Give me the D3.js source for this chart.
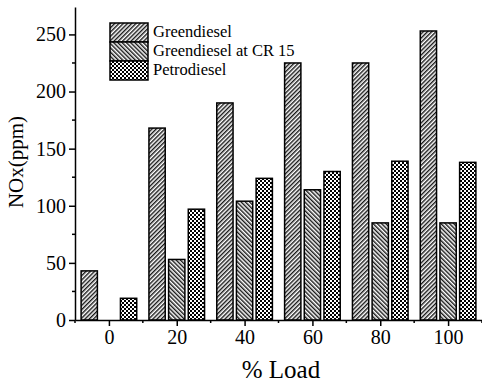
<!DOCTYPE html>
<html>
<head>
<meta charset="utf-8">
<script src="https://cdn.jsdelivr.net/npm/d3@7"></script>
<style>
  body { margin: 0; background: #fff; }
</style>
</head>
<body>
<div id="chart"></div>
<script>
// data
const loads = [0, 20, 40, 60, 80, 100];
const greendiesel = [43, 168, 190, 225, 225, 253];
const greendieselCR15 = [0, 53, 104, 114, 85, 85];
const petrodiesel = [19, 97, 124, 130, 139, 138];
const seriesNames = ["Greendiesel", "Greendiesel at CR 15", "Petrodiesel"];
const xTicks = [0, 20, 40, 60, 80, 100];
const yTicks = [0, 50, 100, 150, 200, 250];

const width = 482, height = 385;
const serif = "'Liberation Serif', 'Times New Roman', Times, 'DejaVu Serif', serif";

const svg = d3.select("#chart")
    .append("svg")
        .attr("width", width)
        .attr("height", height)
        .style("font-family", serif);

// patterns
const defs = svg.append("defs");

function hatch(id, angle) {
    const p = defs.append("pattern")
        .attr("id", id)
        .attr("patternUnits", "userSpaceOnUse")
        .attr("width", 3)
        .attr("height", 3)
        .attr("patternTransform", `rotate(${angle})`);
    p.append("rect").attr("width", 3).attr("height", 3).attr("fill", "#fff");
    p.append("line")
        .attr("x1", 0.75).attr("y1", 0).attr("x2", 0.75).attr("y2", 3)
        .attr("stroke", "#000").attr("stroke-width", 1.3);
}
hatch("pGreen", 45);
hatch("pCR", -45);

const chk = defs.append("pattern")
    .attr("id", "pPetro")
    .attr("patternUnits", "userSpaceOnUse")
    .attr("width", 4)
    .attr("height", 4);
chk.append("rect").attr("width", 4).attr("height", 4).attr("fill", "#fff");
chk.append("rect").attr("width", 2).attr("height", 2).attr("fill", "#000");
chk.append("rect").attr("x", 2).attr("y", 2).attr("width", 2).attr("height", 2).attr("fill", "#000");

const fills = ["url(#pGreen)", "url(#pCR)", "url(#pPetro)"];
const offsets = [-5.8, 0, 5.8];
const barW = 4.8;

// scales
const x = d3.scaleLinear().domain([-10, 110]).range([75, 482]);
const y = d3.scaleLinear().domain([0, 274]).range([320, 7]);

// bars
const allSeries = [greendiesel, greendieselCR15, petrodiesel];
allSeries.forEach(function(vals, s) {
    svg.append("g").selectAll("rect")
        .data(vals.map(function(v, i) { return {load: loads[i], value: v}; })
                  .filter(function(d) { return d.value > 0; }))
        .join("rect")
            .attr("x", function(d) { return x(d.load + offsets[s] - barW / 2); })
            .attr("width", x(barW) - x(0))
            .attr("y", function(d) { return y(d.value); })
            .attr("height", function(d) { return y(0) - y(d.value); })
            .attr("fill", fills[s])
            .attr("stroke", "#000")
            .attr("stroke-width", 1.5);
});

function styleAxis(g) {
    g.attr("font-family", null);
    g.select(".domain").attr("stroke-width", 1.5);
    g.selectAll(".tick line").attr("stroke-width", 1.5);
    g.selectAll(".tick text")
        .attr("font-size", 20)
        .style("font-family", serif);
}

// x axis
const xAxis = svg.append("g").attr("transform", `translate(0, ${y(0)})`);
xAxis.call(d3.axisBottom(x).tickValues(xTicks).tickSize(6).tickSizeOuter(0).tickPadding(4))
    .call(styleAxis);
xAxis.selectAll(".minor")
    .data([-10, 10, 30, 50, 70, 90, 110])
    .join("line")
        .attr("x1", function(d) { return x(d); })
        .attr("x2", function(d) { return x(d); })
        .attr("y1", 0).attr("y2", 3)
        .attr("stroke", "#000").attr("stroke-width", 1.5);

// y axis
const yAxis = svg.append("g").attr("transform", `translate(${x(-10)}, 0)`);
yAxis.call(d3.axisLeft(y).tickValues(yTicks).tickSize(6).tickSizeOuter(0).tickPadding(3))
    .call(styleAxis);
yAxis.selectAll(".minor")
    .data([25, 75, 125, 175, 225])
    .join("line")
        .attr("x1", -3).attr("x2", 0)
        .attr("y1", function(d) { return y(d); })
        .attr("y2", function(d) { return y(d); })
        .attr("stroke", "#000").attr("stroke-width", 1.5);

// axis titles
svg.append("text")
    .attr("transform", "translate(23, 162) rotate(-90)")
    .attr("text-anchor", "middle")
    .attr("font-size", 21)
    .style("font-family", serif)
    .text("NOx(ppm)");

svg.append("text")
    .attr("x", 281)
    .attr("y", 378)
    .attr("text-anchor", "middle")
    .attr("font-size", 25)
    .style("font-family", serif)
    .text("% Load");

// legend
const legend = svg.append("g").attr("transform", "translate(110, 23)");
seriesNames.forEach(function(name, i) {
    legend.append("rect")
        .attr("x", 0).attr("y", i * 19)
        .attr("width", 38).attr("height", 19)
        .attr("fill", fills[i])
        .attr("stroke", "#000")
        .attr("stroke-width", 1.5);
    legend.append("text")
        .attr("x", 43).attr("y", i * 19 + 14)
        .attr("font-size", 16.5)
        .style("font-family", serif)
        .text(name);
});
</script>
</body>
</html>
